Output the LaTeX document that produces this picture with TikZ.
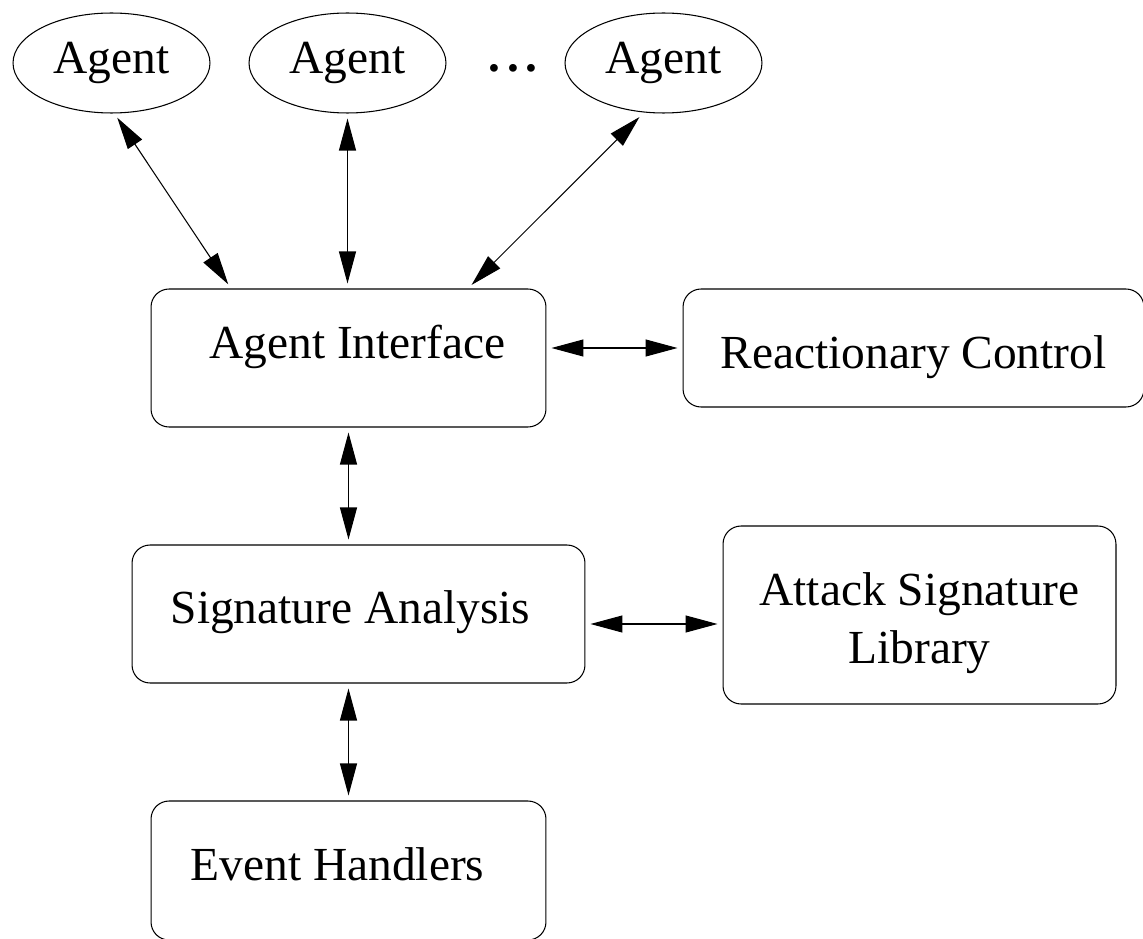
\documentclass[tikz,border=0pt]{standalone}
\usepackage{fontspec}
\setmainfont{Liberation Serif}
\usetikzlibrary{shapes.geometric,arrows.meta,calc}

\begin{document}
\begin{tikzpicture}[x=0.02cm, y=-0.02cm, line width=0.6pt, font=\fontsize{27}{33}\selectfont]
      %% Styles for agents, modules and links
      \tikzset
      {
      agent/.style={ellipse, draw, inner sep=0pt, minimum width=3.94cm, minimum height=2cm},
      module/.style={draw, rounded corners=0.36cm, inner sep=0pt, text height=0.66cm, text depth=0.28cm},
      link/.style={{Triangle[length=0.64cm, width=0.34cm]}-{Triangle[length=0.64cm, width=0.34cm]}, shorten <=0.1cm, shorten >=0.1cm},
      }
      \useasboundingbox (0,0) rectangle (1143,939);
      %% Agents
      \node[agent] (a1) at (111.5,63) {Agent};
      \node[agent] (a2) at (347.5,63) {Agent};
      \node (dots) at (513,68) {\textbf{.}\hspace{0.14em}\textbf{.}\hspace{0.14em}\textbf{.}};
      \node[agent] (a3) at (663.5,63) {Agent};
      %% Modules
      \node[module, minimum width=7.9cm, minimum height=2.76cm, text depth=0.66cm] (ai) at (348.5,358) {\hspace*{0.36cm}Agent Interface};
      \node[module, minimum width=9.22cm, minimum height=2.36cm, text height=1.02cm, text depth=0.2cm] (rc) at (913.5,348) {Reactionary Control};
      \node[module, minimum width=9.06cm, minimum height=2.76cm] (sa) at (358.5,614) {Signature Analysis\hspace*{0.32cm}};
      \node[module, minimum width=7.86cm, minimum height=3.56cm, align=center, text height=, text depth=] (asl) at (919.5,615) {\rule{0pt}{0.98cm}Attack Signature\\Library};
      \node[module, minimum width=7.9cm, minimum height=2.78cm] (eh) at (348.5,870.5) {Event Handlers\hspace*{0.44cm}};
      %% Links
      \coordinate (sa link) at ($(sa.east)+(0,10)$);
      \draw[link] ($(a1.south)+(3,0)$) -- ($(ai.north)+(-117.5,0)$);
      \draw[link] (a2.south) -- (a2.south |- ai.north);
      \draw[link] ($(a3.south)+(-20.5,0)$) -- ($(ai.north)+(119.5,0)$);
      \draw[link] (ai.east |- rc.west) -- (rc.west);
      \draw[link] (ai.south) -- (ai.south |- sa.north);
      \draw[link] (sa link) -- (sa link -| asl.west);
      \draw[link] (eh.north |- sa.south) -- (eh.north);
\end{tikzpicture}
\end{document}
